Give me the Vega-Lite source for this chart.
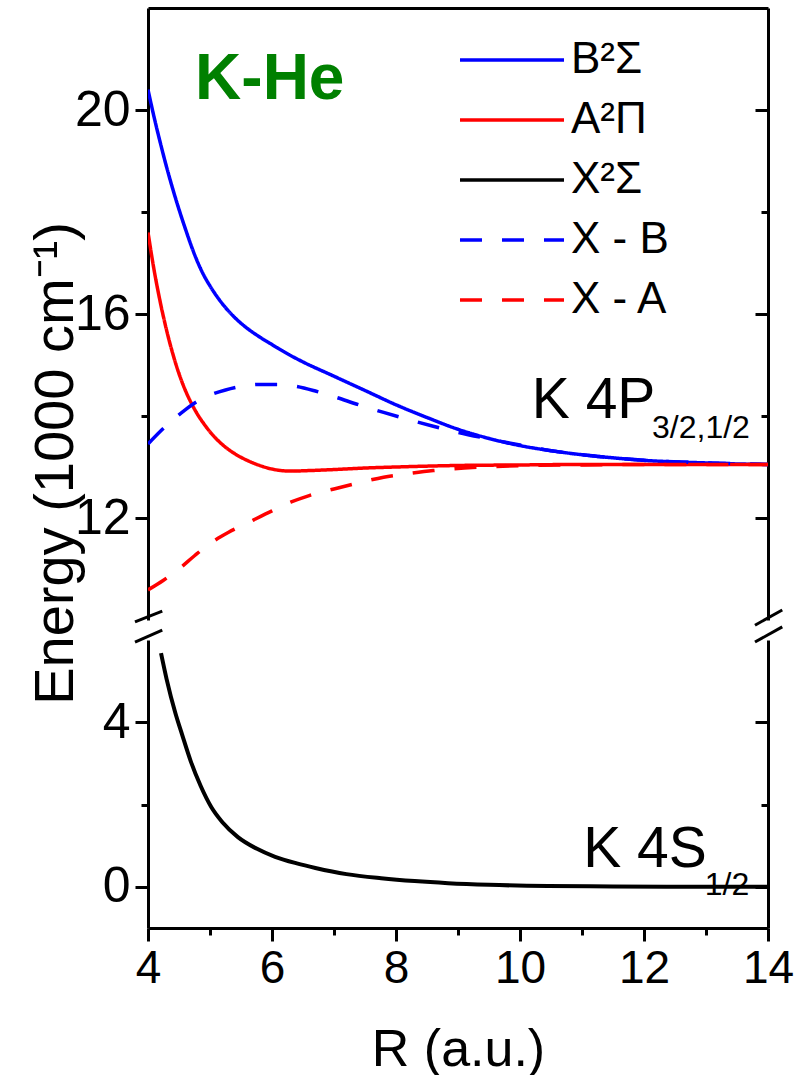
{
  "$schema": "https://vega.github.io/schema/vega-lite/v6.json",
  "background": "white",
  "padding": {"left": 27, "top": 8, "right": 0, "bottom": 5},
  "bounds": "flush",
  "spacing": 20,
  "config": {
    "font": "Liberation Sans",
    "view": {"stroke": null},
    "axis": {
      "domainColor": "black", "domainWidth": 3, "tickColor": "black", "tickWidth": 3,
      "labelColor": "black", "labelFontSize": 50, "labelFont": "Liberation Sans",
      "titleFont": "Liberation Sans", "titleFontSize": 52, "titleFontWeight": "normal",
      "titleColor": "black", "grid": false, "labelPadding": 5, "labelOverlap": false, "labelFlush": false
    }
  },
  "datasets": {
    "curves": [
      {"series": "B²Σ", "R": 4.0, "E": 20.40}, {"series": "B²Σ", "R": 4.1, "E": 19.85}, {"series": "B²Σ", "R": 4.2, "E": 19.35},
      {"series": "B²Σ", "R": 4.3, "E": 18.88}, {"series": "B²Σ", "R": 4.4, "E": 18.45}, {"series": "B²Σ", "R": 4.5, "E": 18.05},
      {"series": "B²Σ", "R": 4.6, "E": 17.68}, {"series": "B²Σ", "R": 4.7, "E": 17.33}, {"series": "B²Σ", "R": 4.8, "E": 17.02},
      {"series": "B²Σ", "R": 4.9, "E": 16.76}, {"series": "B²Σ", "R": 5.0, "E": 16.55}, {"series": "B²Σ", "R": 5.2, "E": 16.2},
      {"series": "B²Σ", "R": 5.4, "E": 15.93}, {"series": "B²Σ", "R": 5.6, "E": 15.72}, {"series": "B²Σ", "R": 5.8, "E": 15.55},
      {"series": "B²Σ", "R": 6.0, "E": 15.40}, {"series": "B²Σ", "R": 6.25, "E": 15.22}, {"series": "B²Σ", "R": 6.5, "E": 15.06},
      {"series": "B²Σ", "R": 7.0, "E": 14.78}, {"series": "B²Σ", "R": 7.5, "E": 14.5}, {"series": "B²Σ", "R": 8.0, "E": 14.22},
      {"series": "B²Σ", "R": 8.5, "E": 13.97}, {"series": "B²Σ", "R": 9.0, "E": 13.74}, {"series": "B²Σ", "R": 9.5, "E": 13.56},
      {"series": "B²Σ", "R": 10.0, "E": 13.42}, {"series": "B²Σ", "R": 10.5, "E": 13.32}, {"series": "B²Σ", "R": 11.0, "E": 13.24},
      {"series": "B²Σ", "R": 11.5, "E": 13.18}, {"series": "B²Σ", "R": 12.0, "E": 13.13}, {"series": "B²Σ", "R": 12.5, "E": 13.1},
      {"series": "B²Σ", "R": 13.0, "E": 13.08}, {"series": "B²Σ", "R": 13.5, "E": 13.06}, {"series": "B²Σ", "R": 14.0, "E": 13.05},

      {"series": "A²Π", "R": 4.0, "E": 17.6}, {"series": "A²Π", "R": 4.1, "E": 16.85}, {"series": "A²Π", "R": 4.2, "E": 16.22},
      {"series": "A²Π", "R": 4.3, "E": 15.68}, {"series": "A²Π", "R": 4.4, "E": 15.22}, {"series": "A²Π", "R": 4.5, "E": 14.83},
      {"series": "A²Π", "R": 4.6, "E": 14.51}, {"series": "A²Π", "R": 4.7, "E": 14.25}, {"series": "A²Π", "R": 4.8, "E": 14.03},
      {"series": "A²Π", "R": 4.9, "E": 13.85}, {"series": "A²Π", "R": 5.0, "E": 13.69}, {"series": "A²Π", "R": 5.2, "E": 13.44},
      {"series": "A²Π", "R": 5.4, "E": 13.26}, {"series": "A²Π", "R": 5.6, "E": 13.13}, {"series": "A²Π", "R": 5.8, "E": 13.03},
      {"series": "A²Π", "R": 6.0, "E": 12.96}, {"series": "A²Π", "R": 6.3, "E": 12.92}, {"series": "A²Π", "R": 6.6, "E": 12.93},
      {"series": "A²Π", "R": 7.0, "E": 12.95}, {"series": "A²Π", "R": 7.5, "E": 12.98}, {"series": "A²Π", "R": 8.0, "E": 13.0},
      {"series": "A²Π", "R": 9.0, "E": 13.03}, {"series": "A²Π", "R": 10.0, "E": 13.04}, {"series": "A²Π", "R": 11.0, "E": 13.05},
      {"series": "A²Π", "R": 12.0, "E": 13.05}, {"series": "A²Π", "R": 14.0, "E": 13.05},

      {"series": "X²Σ", "R": 4.21, "E": 5.68}, {"series": "X²Σ", "R": 4.3, "E": 5.05}, {"series": "X²Σ", "R": 4.44, "E": 4.23},
      {"series": "X²Σ", "R": 4.55, "E": 3.7}, {"series": "X²Σ", "R": 4.69, "E": 3.05}, {"series": "X²Σ", "R": 4.85, "E": 2.45},
      {"series": "X²Σ", "R": 5.02, "E": 1.94}, {"series": "X²Σ", "R": 5.2, "E": 1.57}, {"series": "X²Σ", "R": 5.45, "E": 1.21},
      {"series": "X²Σ", "R": 5.75, "E": 0.93}, {"series": "X²Σ", "R": 6.05, "E": 0.73}, {"series": "X²Σ", "R": 6.4, "E": 0.57},
      {"series": "X²Σ", "R": 6.7, "E": 0.46}, {"series": "X²Σ", "R": 7.2, "E": 0.31}, {"series": "X²Σ", "R": 7.76, "E": 0.21},
      {"series": "X²Σ", "R": 8.3, "E": 0.14}, {"series": "X²Σ", "R": 8.84, "E": 0.09}, {"series": "X²Σ", "R": 9.5, "E": 0.05},
      {"series": "X²Σ", "R": 10.45, "E": 0.02}, {"series": "X²Σ", "R": 11.5, "E": 0.01}, {"series": "X²Σ", "R": 12.5, "E": 0.0},
      {"series": "X²Σ", "R": 14.0, "E": 0.0},

      {"series": "X - B", "R": 4.0, "E": 13.45}, {"series": "X - B", "R": 4.2, "E": 13.7}, {"series": "X - B", "R": 4.4, "E": 13.92},
      {"series": "X - B", "R": 4.6, "E": 14.12}, {"series": "X - B", "R": 4.8, "E": 14.29}, {"series": "X - B", "R": 5.0, "E": 14.41},
      {"series": "X - B", "R": 5.25, "E": 14.51}, {"series": "X - B", "R": 5.5, "E": 14.58}, {"series": "X - B", "R": 5.8, "E": 14.62},
      {"series": "X - B", "R": 6.1, "E": 14.62}, {"series": "X - B", "R": 6.4, "E": 14.58}, {"series": "X - B", "R": 6.7, "E": 14.49},
      {"series": "X - B", "R": 7.0, "E": 14.38}, {"series": "X - B", "R": 7.4, "E": 14.22}, {"series": "X - B", "R": 7.8, "E": 14.07},
      {"series": "X - B", "R": 8.2, "E": 13.93}, {"series": "X - B", "R": 8.6, "E": 13.8}, {"series": "X - B", "R": 9.0, "E": 13.68},
      {"series": "X - B", "R": 9.5, "E": 13.55}, {"series": "X - B", "R": 10.0, "E": 13.43}, {"series": "X - B", "R": 10.5, "E": 13.32},
      {"series": "X - B", "R": 11.0, "E": 13.24}, {"series": "X - B", "R": 11.5, "E": 13.18}, {"series": "X - B", "R": 12.0, "E": 13.13},
      {"series": "X - B", "R": 13.0, "E": 13.08}, {"series": "X - B", "R": 14.0, "E": 13.05},

      {"series": "X - A", "R": 4.0, "E": 10.59}, {"series": "X - A", "R": 4.25, "E": 10.78}, {"series": "X - A", "R": 4.5, "E": 11.0},
      {"series": "X - A", "R": 4.75, "E": 11.26}, {"series": "X - A", "R": 5.0, "E": 11.5}, {"series": "X - A", "R": 5.3, "E": 11.72},
      {"series": "X - A", "R": 5.6, "E": 11.9}, {"series": "X - A", "R": 6.0, "E": 12.14}, {"series": "X - A", "R": 6.3, "E": 12.31},
      {"series": "X - A", "R": 6.6, "E": 12.44}, {"series": "X - A", "R": 7.0, "E": 12.57}, {"series": "X - A", "R": 7.4, "E": 12.69},
      {"series": "X - A", "R": 7.8, "E": 12.8}, {"series": "X - A", "R": 8.2, "E": 12.87}, {"series": "X - A", "R": 8.6, "E": 12.93},
      {"series": "X - A", "R": 9.1, "E": 12.98}, {"series": "X - A", "R": 9.6, "E": 13.01}, {"series": "X - A", "R": 10.2, "E": 13.03},
      {"series": "X - A", "R": 11.0, "E": 13.04}, {"series": "X - A", "R": 12.0, "E": 13.05}, {"series": "X - A", "R": 14.0, "E": 13.05}
    ]
  },
  "vconcat": [
    {
      "width": 620,
      "height": 612,
      "layer": [
        {
          "layer": [
            {
              "data": {"name": "curves"},
              "transform": [{"filter": "datum.series !== 'X²Σ'"}],
              "mark": {"type": "line", "strokeWidth": 3.5, "clip": true, "interpolate": "monotone"},
              "encoding": {
                "x": {"field": "R", "type": "quantitative", "scale": {"domain": [4, 14], "nice": false},
                  "axis": {"orient": "top", "labels": false, "ticks": false, "title": null, "domain": true}},
                "y": {"field": "E", "type": "quantitative", "scale": {"domain": [10, 22], "nice": false, "zero": false},
                  "axis": {"orient": "left", "values": [12, 14, 16, 18, 20], "format": "d",
                    "tickSize": {"condition": {"test": "datum.value % 4 === 0", "value": 13}, "value": 7},
                    "labelExpr": "datum.value % 4 === 0 ? datum.label : ''",
                    "title": "Energy (1000 cm⁻¹)", "titleFontSize": 56, "titleX": -93, "titleY": 455, "titleAngle": -90,
                    "titleAlign": "center", "titleBaseline": "middle"}},
                "color": {"field": "series", "type": "nominal",
                  "scale": {"domain": ["B²Σ", "A²Π", "X²Σ", "X - B", "X - A"], "range": ["#0000ff", "#ff0000", "#000000", "#0000ff", "#ff0000"]},
                  "legend": {"orient": "none", "legendX": 342, "legendY": 30, "title": null, "symbolType": "M-3,0H3", "symbolSize": 1202,
                    "symbolStrokeWidth": 3.5, "labelFontSize": 44, "labelOffset": 37, "rowPadding": 16, "labelColor": "black", "labelFont": "Liberation Sans"}},
                "strokeDash": {"field": "series", "type": "nominal",
                  "scale": {"domain": ["B²Σ", "A²Π", "X²Σ", "X - B", "X - A"], "range": [[1, 0], [1, 0], [1, 0], [22, 20], [22, 20]]},
                  "legend": {"orient": "none", "legendX": 342, "legendY": 30, "title": null, "symbolType": "M-3,0H3", "symbolSize": 1202,
                    "symbolStrokeWidth": 3.5, "labelFontSize": 44, "labelOffset": 37, "rowPadding": 16, "labelColor": "black", "labelFont": "Liberation Sans"}}
              }
            },
            {
              "data": {"values": [{}]},
              "mark": {"type": "text", "text": "K-He", "align": "left", "baseline": "alphabetic", "fontSize": 64, "fontWeight": "bold", "color": "#008000", "font": "Liberation Sans"},
              "encoding": {"x": {"datum": 4.76, "type": "quantitative"}, "y": {"datum": 20.22, "type": "quantitative"}}
            },
            {
              "data": {"values": [{}]},
              "mark": {"type": "text", "text": "K 4P", "align": "left", "baseline": "alphabetic", "fontSize": 57, "color": "black", "font": "Liberation Sans"},
              "encoding": {"x": {"datum": 10.19, "type": "quantitative"}, "y": {"datum": 13.96, "type": "quantitative"}}
            },
            {
              "data": {"values": [{}]},
              "mark": {"type": "text", "text": "3/2,1/2", "align": "left", "baseline": "alphabetic", "fontSize": 32, "color": "black", "font": "Liberation Sans"},
              "encoding": {"x": {"datum": 12.13, "type": "quantitative"}, "y": {"datum": 13.57, "type": "quantitative"}}
            }
          ]
        },
        {
          "data": {"name": "curves"},
          "transform": [{"filter": "datum.series === 'B²Σ'"}],
          "mark": {"type": "line", "opacity": 0},
          "encoding": {
            "x": {"field": "R", "type": "quantitative"},
            "y": {"field": "E", "type": "quantitative", "scale": {"domain": [10, 22], "nice": false, "zero": false},
              "axis": {"orient": "right", "values": [12, 14, 16, 18, 20], "labels": false, "title": null,
                "tickSize": {"condition": {"test": "datum.value % 4 === 0", "value": -13}, "value": -7}}}
          }
        }
      ],
      "resolve": {"scale": {"y": "independent"}, "axis": {"y": "independent"}}
    },
    {
      "width": 620,
      "height": 288,
      "layer": [
        {
          "layer": [
            {
              "data": {"name": "curves"},
              "transform": [{"filter": "datum.series === 'X²Σ'"}],
              "mark": {"type": "line", "strokeWidth": 4, "color": "black", "clip": true, "interpolate": "monotone"},
              "encoding": {
                "x": {"field": "R", "type": "quantitative", "scale": {"domain": [4, 14], "nice": false},
                  "axis": {"orient": "bottom", "values": [4, 5, 6, 7, 8, 9, 10, 11, 12, 13, 14], "format": "d", "labelFontSize": 46,
                    "tickSize": {"condition": {"test": "datum.value % 2 === 0", "value": 13}, "value": 7},
                    "labelExpr": "datum.value % 2 === 0 ? datum.label : ''",
                    "title": "R (a.u.)", "titleY": 137, "titleBaseline": "alphabetic"}},
                "y": {"field": "E", "type": "quantitative", "scale": {"domain": [-1, 6], "nice": false, "zero": false},
                  "axis": {"orient": "left", "values": [0, 2, 4], "format": "d",
                    "tickSize": {"condition": {"test": "datum.value % 4 === 0", "value": 13}, "value": 7},
                    "labelExpr": "datum.value % 4 === 0 ? datum.label : ''", "title": null}}
              }
            },
            {
              "data": {"values": [{}]},
              "mark": {"type": "text", "text": "K 4S", "align": "left", "baseline": "alphabetic", "fontSize": 57, "color": "black", "font": "Liberation Sans"},
              "encoding": {"x": {"datum": 11.02, "type": "quantitative"}, "y": {"datum": 0.48, "type": "quantitative"}}
            },
            {
              "data": {"values": [{}]},
              "mark": {"type": "text", "text": "1/2", "align": "left", "baseline": "alphabetic", "fontSize": 32, "color": "black", "font": "Liberation Sans"},
              "encoding": {"x": {"datum": 12.98, "type": "quantitative"}, "y": {"datum": -0.2, "type": "quantitative"}}
            },
            {
              "data": {"values": [{}]},
              "mark": {"type": "rule", "strokeWidth": 3, "color": "black"},
              "encoding": {"x": {"datum": 3.79, "type": "quantitative"}, "y": {"datum": 6.44, "type": "quantitative"}, "x2": {"datum": 4.23}, "y2": {"datum": 6.7}}
            },
            {
              "data": {"values": [{}]},
              "mark": {"type": "rule", "strokeWidth": 3, "color": "black"},
              "encoding": {"x": {"datum": 3.79, "type": "quantitative"}, "y": {"datum": 5.95, "type": "quantitative"}, "x2": {"datum": 4.23}, "y2": {"datum": 6.24}}
            },
            {
              "data": {"values": [{}]},
              "mark": {"type": "rule", "strokeWidth": 3, "color": "black"},
              "encoding": {"x": {"datum": 13.79, "type": "quantitative"}, "y": {"datum": 6.36, "type": "quantitative"}, "x2": {"datum": 14.23}, "y2": {"datum": 6.73}}
            },
            {
              "data": {"values": [{}]},
              "mark": {"type": "rule", "strokeWidth": 3, "color": "black"},
              "encoding": {"x": {"datum": 13.79, "type": "quantitative"}, "y": {"datum": 5.95, "type": "quantitative"}, "x2": {"datum": 14.23}, "y2": {"datum": 6.32}}
            }
          ]
        },
        {
          "data": {"name": "curves"},
          "transform": [{"filter": "datum.series === 'X²Σ'"}],
          "mark": {"type": "line", "opacity": 0},
          "encoding": {
            "x": {"field": "R", "type": "quantitative"},
            "y": {"field": "E", "type": "quantitative", "scale": {"domain": [-1, 6], "nice": false, "zero": false},
              "axis": {"orient": "right", "values": [0, 2, 4], "labels": false, "title": null,
                "tickSize": {"condition": {"test": "datum.value % 4 === 0", "value": -13}, "value": -7}}}
          }
        }
      ],
      "resolve": {"scale": {"y": "independent"}, "axis": {"y": "independent"}}
    }
  ],
  "resolve": {
    "scale": {"color": "independent", "strokeDash": "independent", "x": "independent", "y": "independent"},
    "legend": {"color": "independent", "strokeDash": "independent"}
  }
}
